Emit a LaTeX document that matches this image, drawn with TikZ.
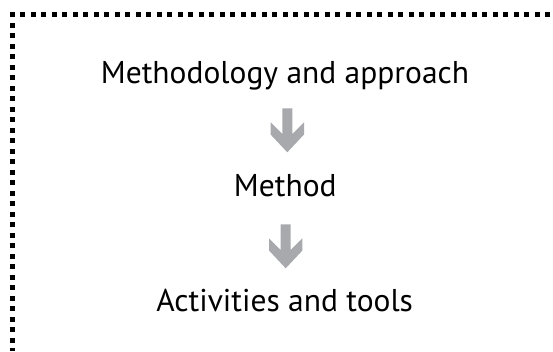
\documentclass[tikz,border=0pt]{standalone}
\usepackage{fontspec}
\setmainfont{PT Sans}
\usetikzlibrary{positioning}
\definecolor{arrowgray}{RGB}{167,169,172}

\begin{document}
\begin{tikzpicture}[x=1pt,y=1pt,
  txt/.style={inner sep=0pt,font=\fontsize{31.5}{37}\selectfont},
  dotline/.style={line width=4.7pt,dash pattern=on 4.7pt off 5.8pt},
  downarrow/.pic={\fill[arrowgray] (0,0) -- (16.7,17.8) -- (16.7,30) -- (5,18.3) -- (5,44)
                  -- (-5,44) -- (-5,18.3) -- (-16.7,30) -- (-16.7,17.8) -- cycle;}]
  \useasboundingbox (0,0) rectangle (553,-351);
  % dotted frame, open to the right and bottom
  \draw[dotline] (9.9,-14.7) -- (553,-14.7);
  \draw[dotline] (12.2,-12.4) -- (12.2,-351);
  \node[txt,anchor=base] (approach) at (285,-83.3) {Methodology and approach};
  \node[txt,below=113.4pt of approach.base,anchor=base,xshift=0.3pt] (method) {Method};
  \node[txt,below=115pt of method.base,anchor=base,xshift=-0.6pt] (activities) {Activities and tools};
  \coordinate (tip1) at ([shift={(2.3,-69)}]approach.base);
  \coordinate (tip2) at ([shift={(0.4,-71.6)}]method.base);
  \pic at (tip1) {downarrow};
  \pic at (tip2) {downarrow};
\end{tikzpicture}
\end{document}
